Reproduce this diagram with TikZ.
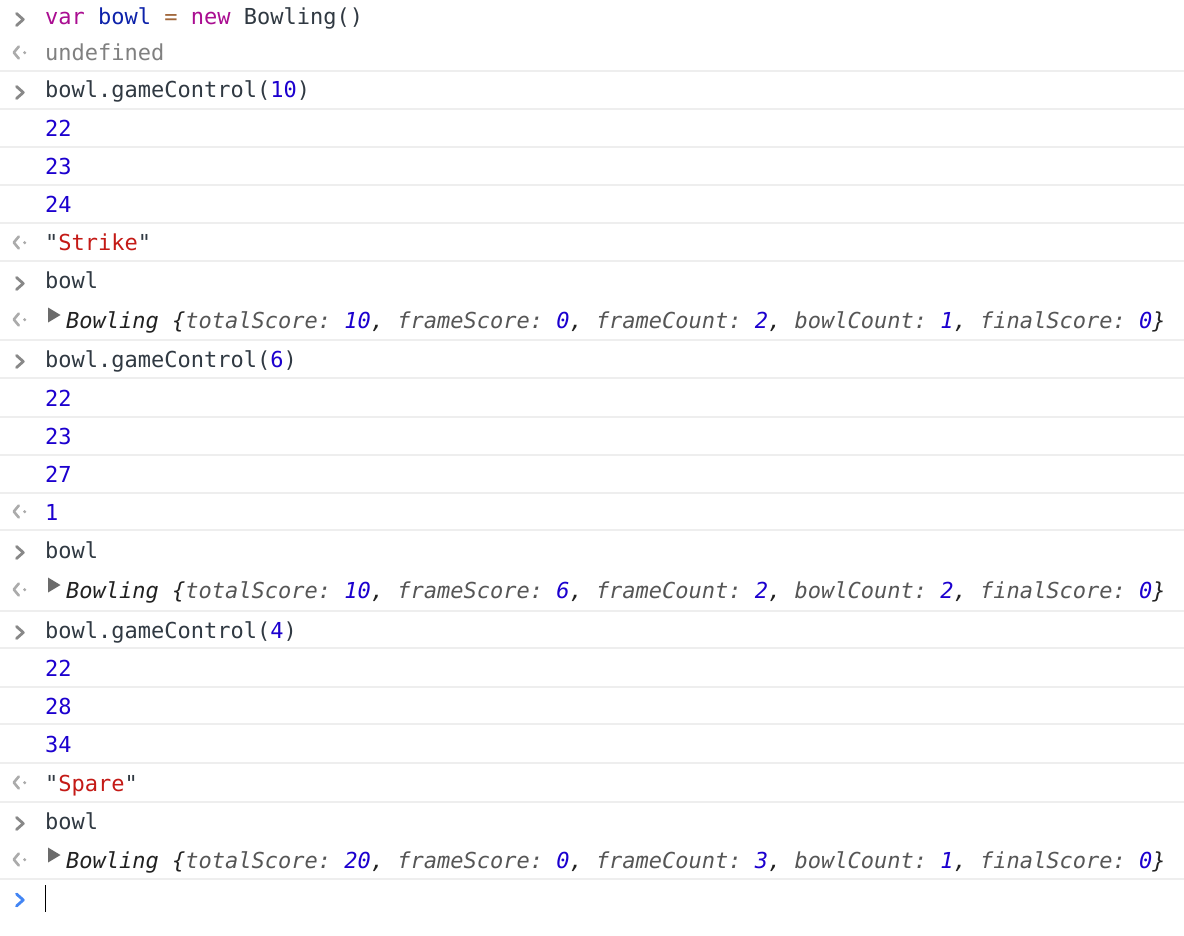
\documentclass[tikz,border=0pt]{standalone}
\usepackage{fontspec}
\setmonofont{DejaVu Sans Mono}
\definecolor{ink}{HTML}{303942}
\definecolor{kw}{HTML}{AA0D91}
\definecolor{vardef}{HTML}{0D22AA}
\definecolor{op}{HTML}{A1673A}
\definecolor{num}{HTML}{1C00CF}
\definecolor{str}{HTML}{C41A16}
\definecolor{dim}{HTML}{808080}
\definecolor{keyc}{HTML}{565656}
\definecolor{rule}{HTML}{EEEEEE}
\definecolor{chev}{HTML}{888888}
\definecolor{chevr}{HTML}{ABABAB}
\definecolor{prompt}{HTML}{4285F4}
\tikzset{
    code/.style = {anchor=base west, inner sep=0pt, text=ink, font=\ttfamily\fontsize{22}{26}\selectfont},
    codeobj/.style = {code, text=black!87, font=\ttfamily\itshape\fontsize{22}{26}\selectfont},
    sepline/.style = {draw=rule, line width=2pt},
    chevin/.style = {draw=chev, line width=2.8pt, line cap=round, line join=round},
    chevout/.style = {draw=chevr, line width=2.6pt, line cap=round, line join=round},
    chevp/.style = {draw=prompt, line width=2.8pt, line cap=round, line join=round},
    expander/.style = {fill=black!58},
    caret/.style = {draw=black, line width=1.6pt}
}
\newcommand{\Num}[1]{\textcolor{num}{#1}}
\newcommand{\Key}[1]{\textcolor{keyc}{#1}}
\newcommand{\Kw}[1]{\textcolor{kw}{#1}}
\newcommand{\Str}[1]{"\textcolor{str}{#1}"}
\newcommand{\PIn}[1]{\draw[chevin] (16.5,#1-11.5) -- (23.3,#1-5.5) -- (16.5,#1+0.5);}
\newcommand{\POut}[1]{\draw[chevout] (18.8,#1-14.5) -- (13.8,#1-8.5) -- (18.8,#1-2.5); \fill[chevr] (24.7,#1-8.3) circle (1.7);}
\newcommand{\Expand}[1]{\fill[expander] (48,#1-20.5) -- (60.5,#1-13) -- (48,#1-5.5) -- cycle;}

\begin{document}
\begin{tikzpicture}[x=1pt,y=-1pt]
\fill[white] (0,0) rectangle (1184,936);
\useasboundingbox (0,0) rectangle (1184,936);
%
\draw[sepline] (0,71) -- (1184,71);
\draw[sepline] (0,109) -- (1184,109);
\draw[sepline] (0,147) -- (1184,147);
\draw[sepline] (0,185) -- (1184,185);
\draw[sepline] (0,223) -- (1184,223);
\draw[sepline] (0,261) -- (1184,261);
\draw[sepline] (0,340) -- (1184,340);
\draw[sepline] (0,378) -- (1184,378);
\draw[sepline] (0,417) -- (1184,417);
\draw[sepline] (0,455) -- (1184,455);
\draw[sepline] (0,493) -- (1184,493);
\draw[sepline] (0,530) -- (1184,530);
\draw[sepline] (0,611) -- (1184,611);
\draw[sepline] (0,648) -- (1184,648);
\draw[sepline] (0,687) -- (1184,687);
\draw[sepline] (0,724) -- (1184,724);
\draw[sepline] (0,763) -- (1184,763);
\draw[sepline] (0,802) -- (1184,802);
\draw[sepline] (0,879) -- (1184,879);
%
\PIn{25}
\node[code] at (45,25) (in1) {\Kw{var} \textcolor{vardef}{bowl} \textcolor{op}{=} \Kw{new} Bowling()};
\POut{61}
\node[code, text=dim] at (45,61) (res1) {undefined};
\PIn{98}
\node[code] at (45,98) (in2) {bowl.gameControl(\Num{10})};
\node[code, text=num] at (45,137) (log1a) {22};
\node[code, text=num] at (45,175) (log1b) {23};
\node[code, text=num] at (45,213) (log1c) {24};
\POut{251}
\node[code] at (45,251) (res2) {\Str{Strike}};
\PIn{289}
\node[code] at (45,289) (in3) {bowl};
\POut{328}
\Expand{328}
\node[codeobj] at (66,328) (obj1) {Bowling \{\Key{totalScore:} \Num{10}, \Key{frameScore:} \Num{0}, \Key{frameCount:} \Num{2}, \Key{bowlCount:} \Num{1}, \Key{finalScore:} \Num{0}\}};
%
\PIn{367}
\node[code] at (45,367) (in4) {bowl.gameControl(\Num{6})};
\node[code, text=num] at (45,406) (log2a) {22};
\node[code, text=num] at (45,444) (log2b) {23};
\node[code, text=num] at (45,482) (log2c) {27};
\POut{520}
\node[code] at (45,520) (res4) {\Num{1}};
\PIn{558}
\node[code] at (45,558) (in5) {bowl};
\POut{598}
\Expand{598}
\node[codeobj] at (66,598) (obj2) {Bowling \{\Key{totalScore:} \Num{10}, \Key{frameScore:} \Num{6}, \Key{frameCount:} \Num{2}, \Key{bowlCount:} \Num{2}, \Key{finalScore:} \Num{0}\}};
%
\PIn{638}
\node[code] at (45,638) (in6) {bowl.gameControl(\Num{4})};
\node[code, text=num] at (45,676) (log3a) {22};
\node[code, text=num] at (45,714) (log3b) {28};
\node[code, text=num] at (45,752) (log3c) {34};
\POut{791}
\node[code] at (45,791) (res6) {\Str{Spare}};
\PIn{829}
\node[code] at (45,829) (in7) {bowl};
\POut{868}
\Expand{868}
\node[codeobj] at (66,868) (obj3) {Bowling \{\Key{totalScore:} \Num{20}, \Key{frameScore:} \Num{0}, \Key{frameCount:} \Num{3}, \Key{bowlCount:} \Num{1}, \Key{finalScore:} \Num{0}\}};
%
\draw[chevp] (16.5,894) -- (23.3,900) -- (16.5,906);
\coordinate (caretTop) at (45.5,885);
\coordinate (caretBot) at (45.5,912);
\draw[caret] (caretTop) -- (caretBot);
\end{tikzpicture}
\end{document}
